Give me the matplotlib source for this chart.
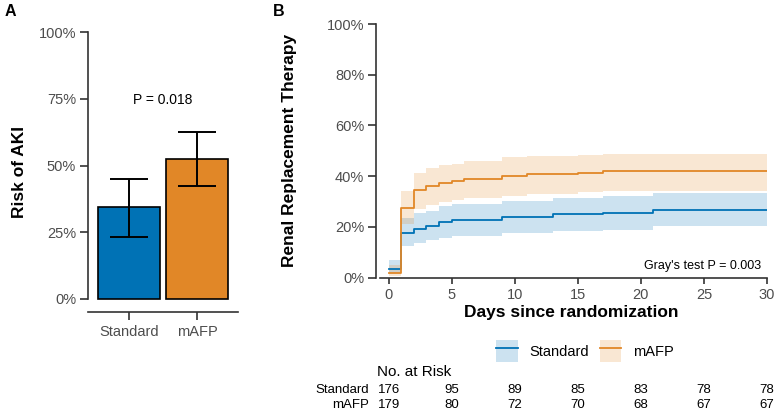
import matplotlib
matplotlib.use("Agg")
import matplotlib.pyplot as plt
import matplotlib.transforms as mtransforms
from matplotlib.patches import Patch
from matplotlib.lines import Line2D
from matplotlib.ticker import PercentFormatter

plt.rcParams['font.family'] = ['Liberation Sans', 'DejaVu Sans']

# colours (NEJM-like palette)
blue = '#0072B5'
orange = '#E18727'
tick_col = '#4d4d4d'
axis_col = '#333333'

# Panel A: risk of AKI
groups = ['Standard', 'mAFP']
risk = [0.343, 0.526]
risk_lo = [0.233, 0.425]
risk_hi = [0.450, 0.625]

# Panel B: cumulative incidence of RRT
std_t = [0, 1, 2, 3, 4, 5, 9, 13, 17, 21, 30]
std_est = [0.033, 0.176, 0.193, 0.205, 0.221, 0.228, 0.239, 0.250, 0.255, 0.266, 0.266]
std_lo = [0.017, 0.125, 0.137, 0.148, 0.158, 0.165, 0.178, 0.183, 0.187, 0.204, 0.204]
std_hi = [0.069, 0.235, 0.255, 0.262, 0.284, 0.292, 0.303, 0.316, 0.323, 0.332, 0.332]

mafp_t = [0, 1, 2, 3, 4, 5, 6, 9, 11, 15, 17, 30]
mafp_est = [0.020, 0.275, 0.347, 0.363, 0.375, 0.380, 0.390, 0.402, 0.408, 0.413, 0.419, 0.419]
mafp_lo = [0.005, 0.210, 0.270, 0.288, 0.298, 0.305, 0.314, 0.324, 0.331, 0.336, 0.342, 0.342]
mafp_hi = [0.050, 0.340, 0.413, 0.432, 0.445, 0.450, 0.460, 0.474, 0.479, 0.484, 0.489, 0.489]

# number at risk
risk_days = [0, 5, 10, 15, 20, 25, 30]
nrisk_std = [176, 95, 89, 85, 83, 78, 78]
nrisk_mafp = [179, 80, 72, 70, 68, 67, 67]

W, H = 777, 413
fig = plt.figure(figsize=(W / 100, H / 100), dpi=100)


def px_axes(left, top, right, bottom):
    return fig.add_axes([left / W, 1 - bottom / H, (right - left) / W, (bottom - top) / H])


def style_axes(ax):
    for s in ['top', 'right']:
        ax.spines[s].set_visible(False)
    for s in ['left', 'bottom']:
        ax.spines[s].set_color(axis_col)
        ax.spines[s].set_linewidth(1.2)
    ax.tick_params(colors=axis_col, labelcolor=tick_col, labelsize=10.5,
                   width=1.2, length=5.5, pad=3)


# ---- Panel A ----
axA = px_axes(88, 32, 238, 312.35)
style_axes(axA)
xA = [1, 2]
axA.bar(xA, risk, width=0.9, color=[blue, orange], edgecolor='black', linewidth=1.2, zorder=2)
yerr = [[r - l for r, l in zip(risk, risk_lo)], [h - r for r, h in zip(risk, risk_hi)]]
axA.errorbar(xA, risk, yerr=yerr, fmt='none', ecolor='black', elinewidth=1.4,
             capsize=14, capthick=1.4, zorder=3)
axA.set_xlim(0.4, 2.6)
axA.set_ylim(-0.05, 1.0)
axA.set_yticks([0, 0.25, 0.5, 0.75, 1.0])
axA.yaxis.set_major_formatter(PercentFormatter(1.0, decimals=0))
axA.spines['left'].set_bounds(0, 1)
axA.set_xticks(xA)
axA.set_xticklabels(groups)
axA.tick_params(axis='x', pad=3.5)
axA.set_ylabel('Risk of AKI', fontsize=12.5, fontweight='bold')
axA.yaxis.set_label_coords(-0.405, 0.5)
axA.text(1.5, 0.745, 'P = 0.018', ha='center', va='center', fontsize=10)
fig.text(5 / W, 1 - 12 / H, 'A', fontsize=11.5, fontweight='bold', va='center', ha='left')

# ---- Panel B ----
axB = px_axes(376, 24, 767, 277.7)
style_axes(axB)
axB.fill_between(std_t, std_lo, std_hi, step='post', color=blue, alpha=0.2, linewidth=0)
axB.fill_between(mafp_t, mafp_lo, mafp_hi, step='post', color=orange, alpha=0.2, linewidth=0)
axB.step(std_t, std_est, where='post', color=blue, linewidth=1.3)
axB.step(mafp_t, mafp_est, where='post', color=orange, linewidth=1.3)
axB.set_xlim(-1, 30)
axB.set_ylim(0, 1)
axB.spines['bottom'].set_bounds(-0.7, 30)
axB.set_xticks(risk_days)
axB.set_yticks([0, 0.2, 0.4, 0.6, 0.8, 1.0])
axB.yaxis.set_major_formatter(PercentFormatter(1.0, decimals=0))
axB.tick_params(axis='x', length=4.5)
axB.set_ylabel('Renal Replacement Therapy', fontsize=12.5, fontweight='bold')
axB.yaxis.set_label_coords(-0.202, 0.5)
axB.set_xlabel('Days since randomization', fontsize=12.5, fontweight='bold', labelpad=2)
axB.text(0.985, 0.047, "Gray's test P = 0.003", transform=axB.transAxes,
         ha='right', va='center', fontsize=9)
fig.text(273 / W, 1 - 12 / H, 'B', fontsize=11.5, fontweight='bold', va='center', ha='left')

# legend
handles = [(Patch(facecolor=blue, alpha=0.2, linewidth=0), Line2D([], [], color=blue, lw=1.3)),
           (Patch(facecolor=orange, alpha=0.2, linewidth=0), Line2D([], [], color=orange, lw=1.3))]
fig.legend(handles, ['Standard', 'mAFP'], loc='center', bbox_to_anchor=(585 / W, 1 - 351 / H),
           ncol=2, frameon=False, fontsize=10.5, handlelength=1.5, handleheight=1.9,
           handletextpad=0.8, columnspacing=0.7)

# number at risk table
tr = mtransforms.blended_transform_factory(axB.transData, fig.transFigure)
fig.text(377 / W, 1 - 372 / H, 'No. at Risk', fontsize=11, ha='left', va='center')
row_y = [390, 404.5]
fig.text(369 / W, 1 - row_y[0] / H, 'Standard', fontsize=9.5, ha='right', va='center')
fig.text(369 / W, 1 - row_y[1] / H, 'mAFP', fontsize=9.5, ha='right', va='center')
for d, a, b in zip(risk_days, nrisk_std, nrisk_mafp):
    fig.text(d, 1 - row_y[0] / H, str(a), transform=tr, fontsize=9.5, ha='center', va='center')
    fig.text(d, 1 - row_y[1] / H, str(b), transform=tr, fontsize=9.5, ha='center', va='center')

fig.savefig('out.png', dpi=100)
